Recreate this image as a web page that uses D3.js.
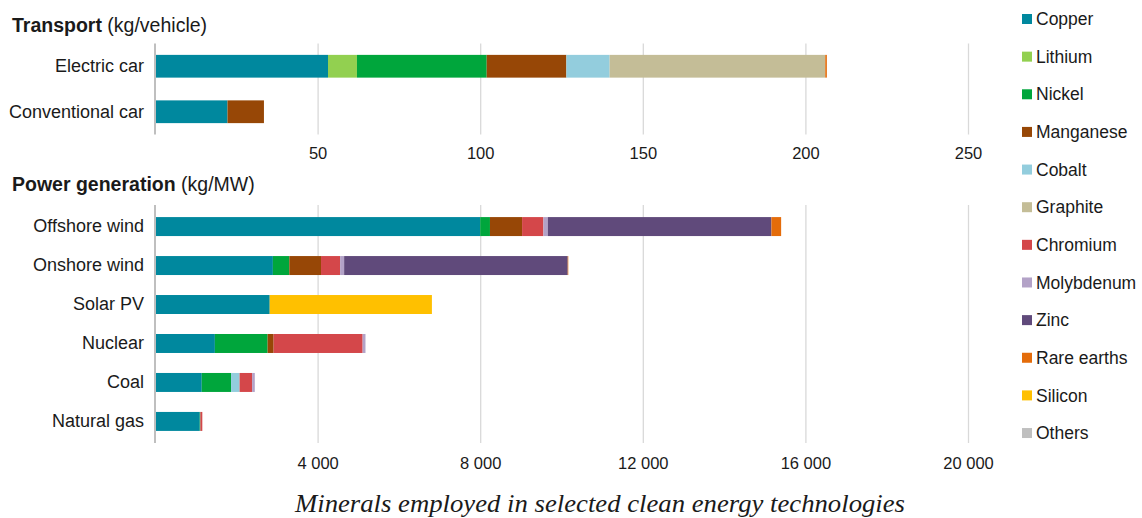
<!DOCTYPE html>
<html>
<head>
<meta charset="utf-8">
<script src="https://cdn.jsdelivr.net/npm/d3@7"></script>
<style>
  body { margin: 0; background: #fff; }
  svg text { font-family: "Liberation Sans", Arial, sans-serif; fill: #1a1a1a; }
</style>
</head>
<body>
<svg id="chart" width="1142" height="518"></svg>
<script>
// minerals (stack order) and their colours
const minerals = ["Copper", "Lithium", "Nickel", "Manganese", "Cobalt", "Graphite",
  "Chromium", "Molybdenum", "Zinc", "Rare earths", "Silicon", "Others"];
const mineralColors = ["#00889e", "#92d050", "#00a63c", "#974706", "#93cddd", "#c4bd97",
  "#d4474a", "#b3a2c7", "#604a7b", "#e46c0a", "#ffc000", "#bfbfbf"];

// transport, kg/vehicle (same order as minerals)
const transportCategories = ["Electric car", "Conventional car"];
const electricCar = [53.2, 8.9, 39.9, 24.5, 13.3, 66.3, 0, 0, 0, 0.5, 0, 0];
const conventionalCar = [22.3, 0, 0, 11.2, 0, 0, 0, 0, 0, 0, 0, 0];
const transportTicks = [50, 100, 150, 200, 250];

// power generation, kg/MW
const powerCategories = ["Offshore wind", "Onshore wind", "Solar PV", "Nuclear", "Coal", "Natural gas"];
const offshoreWind = [8000, 0, 240, 790, 0, 0, 525, 109, 5500, 239, 0, 0];
const onshoreWind = [2900, 0, 404, 780, 0, 0, 470, 99, 5500, 14, 0, 0];
const solarPV = [2822, 0, 0, 0, 0, 0, 0, 0, 0, 0, 3990, 0];
const nuclear = [1473, 0, 1297, 148, 0, 0, 2190, 70, 0, 0, 0, 0];
const coal = [1150, 0, 721, 0, 210, 0, 308, 66, 0, 0, 0, 0];
const naturalGas = [1100, 0, 16, 0, 0, 0, 48, 0, 0, 0, 0, 0];
const powerTicks = [4000, 8000, 12000, 16000, 20000];

const svg = d3.select("#chart");
const color = d3.scaleOrdinal().domain(minerals).range(mineralColors);
const fmt = d3.formatLocale({ decimal: ".", thousands: " ", grouping: [3], currency: ["", ""] }).format(",");

const toRows = (cats, series) => cats.map((c, i) => {
  const row = { category: c };
  minerals.forEach((m, j) => (row[m] = series[i][j]));
  return row;
});

function panel({ cats, series, domain, ticks, top, bottom, po, pi, labelY, title, unit, titleY }) {
  const x = d3.scaleLinear().domain(domain).range([155, 968]);
  const y = d3.scaleBand().domain(cats).range([top, bottom]).paddingInner(pi).paddingOuter(po);
  const g = svg.append("g");

  // gridlines
  g.append("g")
    .attr("transform", `translate(0,${bottom})`)
    .call(d3.axisBottom(x).tickValues(ticks).tickSize(-(bottom - top)).tickFormat(""))
    .call((s) => s.select(".domain").remove())
    .call((s) => s.selectAll("line").attr("stroke", "#d9d9d9").attr("stroke-width", 1.3));

  // stacked bars
  const stacked = d3.stack().keys(minerals)(toRows(cats, series));
  g.selectAll("g.layer")
    .data(stacked)
    .join("g")
    .attr("class", "layer")
    .attr("fill", (d) => color(d.key))
    .selectAll("rect")
    .data((d) => d.filter((p) => p[1] > p[0]))
    .join("rect")
    .attr("x", (d) => x(d[0]))
    .attr("width", (d) => x(d[1]) - x(d[0]))
    .attr("y", (d) => y(d.data.category))
    .attr("height", y.bandwidth());

  // zero line
  g.append("line")
    .attr("x1", x(0)).attr("x2", x(0))
    .attr("y1", top).attr("y2", bottom)
    .attr("stroke", "#bfbfbf").attr("stroke-width", 2);

  // category labels
  g.append("g")
    .attr("transform", `translate(${x(0)},0)`)
    .call(d3.axisLeft(y).tickSize(0).tickPadding(11))
    .call((s) => s.select(".domain").remove())
    .call((s) => s.selectAll("text").style("font-size", "18px").attr("fill", "#1a1a1a"));

  // value labels
  g.append("g")
    .attr("transform", `translate(0,${labelY})`)
    .call(d3.axisBottom(x).tickValues(ticks).tickSize(0).tickPadding(0).tickFormat(fmt))
    .call((s) => s.select(".domain").remove())
    .call((s) => s.selectAll("text").style("font-size", "16.5px").attr("fill", "#1a1a1a"));

  // title
  const t = svg.append("text").attr("x", 12).attr("y", titleY).style("font-size", "19.5px");
  t.append("tspan").attr("font-weight", "bold").text(title);
  t.append("tspan").text(" " + unit);
}

panel({
  cats: transportCategories,
  series: [electricCar, conventionalCar],
  domain: [0, 250], ticks: transportTicks,
  top: 43.5, bottom: 134.5, pi: 0.5, po: 0.25,
  labelY: 147, title: "Transport", unit: "(kg/vehicle)", titleY: 32
});

panel({
  cats: powerCategories,
  series: [offshoreWind, onshoreWind, solarPV, nuclear, coal, naturalGas],
  domain: [0, 20000], ticks: powerTicks,
  top: 205, bottom: 443, pi: 0.513, po: 0.31,
  labelY: 457, title: "Power generation", unit: "(kg/MW)", titleY: 191
});

// legend
const legend = svg.append("g").attr("transform", "translate(1022,19)");
const item = legend.selectAll("g")
  .data(minerals)
  .join("g")
  .attr("transform", (d, i) => `translate(0,${i * 37.64})`);
item.append("rect").attr("x", 0).attr("y", -5).attr("width", 10).attr("height", 10).attr("fill", (d) => color(d));
item.append("text").attr("x", 14).attr("dy", "0.35em").style("font-size", "17.5px").text((d) => d);

// caption
svg.append("text")
  .attr("x", 600).attr("y", 512)
  .attr("text-anchor", "middle")
  .attr("textLength", 610)
  .attr("lengthAdjust", "spacingAndGlyphs")
  .style("font-family", '"Liberation Serif", "Times New Roman", serif')
  .style("font-style", "italic")
  .style("font-size", "25px")
  .text("Minerals employed in selected clean energy technologies");
</script>
</body>
</html>
